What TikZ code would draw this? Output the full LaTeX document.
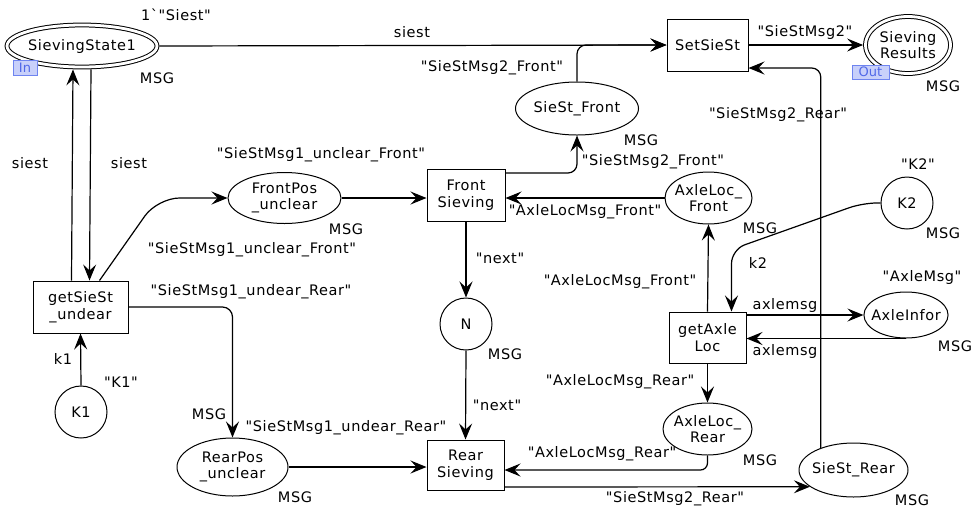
\documentclass[tikz,border=0pt]{standalone}
\usepackage{fontspec}
\setmainfont{DejaVu Sans}
\font\mainf="DejaVu Sans:letterspace=4" at 14.5pt
\font\tagf="DejaVu Sans" at 13pt
\usetikzlibrary{arrows.meta,calc,shapes.geometric}
\definecolor{tagfill}{RGB}{200,208,250}
\definecolor{tagborder}{RGB}{110,132,240}
\definecolor{tagtext}{RGB}{80,104,232}
\begin{document}
\begin{tikzpicture}[x=1pt,y=-1pt,
  every node/.style={font={\fontsize{14.5}{16.5}\selectfont\mainf}},
  place/.style={ellipse,draw,line width=1pt,inner sep=-5pt,align=center},
  dbl/.style={double,double distance=2.8pt,line width=1pt,outer sep=2.4pt},
  trans/.style={rectangle,draw,line width=1pt,inner sep=2pt,align=center},
  circ/.style={circle,draw,line width=1pt,minimum size=52pt,inner sep=0pt},
  arc/.style={line width=1.2pt,-{Stealth[length=16pt,width=13pt,inset=6pt]}},
  lbl/.style={inner sep=0pt},
  tag/.style={draw=tagborder,fill=tagfill,text=tagtext,inner sep=1pt,line width=1pt,font={\fontsize{13}{14}\selectfont\tagf}}]
\useasboundingbox (0,0) rectangle (974,507);
% places and transitions
\node[place,dbl,minimum width=150pt,minimum height=42pt] (ss1) at (82,46) {SievingState1};
\node[trans,minimum width=81pt,minimum height=52pt] (set) at (707.5,45) {SetSieSt};
\node[place,dbl,minimum width=85pt,minimum height=57pt] (res) at (908,45) {Sieving\\Results};
\node[place,minimum width=123pt,minimum height=53pt] (sfront) at (577,108.5) {SieSt\_Front};
\node[place,minimum width=113pt,minimum height=51pt] (fpos) at (284.5,198) {FrontPos\\\_unclear};
\node[trans,minimum width=78pt,minimum height=52pt] (fs) at (466,195) {Front\\Sieving};
\node[place,minimum width=87pt,minimum height=52pt] (alf) at (708.5,198) {AxleLoc\_\\Front};
\node[circ] (k2) at (907,203) {K2};
\node[trans,minimum width=95pt,minimum height=52pt] (gss) at (80.5,307) {getSieSt\\\_undear};
\node[circ] (n) at (466,324) {N};
\node[trans,minimum width=77pt,minimum height=51pt] (gal) at (707.5,337.5) {getAxle\\Loc};
\node[place,minimum width=80pt,minimum height=46pt] (ai) at (906,315) {AxleInfor};
\node[circ] (k1) at (81,412) {K1};
\node[place,minimum width=111pt,minimum height=58pt] (rpos) at (232.5,467) {RearPos\\\_unclear};
\node[trans,minimum width=77pt,minimum height=50pt] (rs) at (465.5,465) {Rear\\Sieving};
\node[place,minimum width=89pt,minimum height=52pt] (alr) at (707.5,429) {AxleLoc\_\\Rear};
\node[place,minimum width=109pt,minimum height=54pt] (srear) at (853.5,470) {SieSt\_Rear};
% port tags
\node[tag,minimum width=24pt,minimum height=15pt] (intag) at (25,68) {In};
\node[tag,minimum width=37pt,minimum height=14pt] (outtag) at (870.5,72) {Out};
% arcs
\draw[arc] (ss1.east) -- (set.west);
\draw[arc,rounded corners=9pt] (sfront.north) |- (set.west);
\draw[arc] (set.east) -- (res.west);
\draw[arc,rounded corners=9pt] (srear.146) |- ($(set.east)+(0,23)$);
\draw[arc,rounded corners=9pt] ($(fs.east)+(0,-22)$) -| (sfront.south);
\draw[arc] (alf.west) -- (alf.west -| fs.east);
\draw[arc] (gal.north) -- (alf.south);
\draw[arc,rounded corners=14pt] (k2.west) -- ++(-18,0) -- ($(gal.north)+(24,-62)$) -- ($(gal.north)+(24,0)$);
\draw[arc] (gal.east |- ai.west) -- (ai.west);
\draw[arc] (ai.south) -- (ai.south -| gal.east);
\draw[arc] (gal.south) -- (alr.north);
\draw[arc,rounded corners=7pt] (alr.south) |- ($(rs.east)+(0,5)$);
\draw[arc] ($(rs.east)+(0,22)$) -- (srear.201);
\draw[arc] (fs.south) -- (n.north);
\draw[arc] (n.south) -- (rs.north);
\draw[arc] (fpos.east) -- (fpos.east -| fs.west);
\draw[arc,rounded corners=22pt] ($(gss.north)+(19,0)$) -- ($(fpos.west)+(-70,0)$) -- (fpos.west);
\draw[arc,rounded corners=10pt] (gss.east) -| (rpos.north);
\draw[arc] (rpos.east) -- (rpos.east -| rs.west);
\draw[arc] (k1.north) -- (gss.south);
\draw[arc] ($(gss.north)+(-9,0)$) -- ($(ss1.south)+(-9,0)$);
\draw[arc] ($(ss1.south)+(9,0)$) -- ($(gss.north)+(9,0)$);
% inscriptions
\node[lbl] (l1) at (176,15) {1\char96"Siest"};
\node[lbl] (l2) at (157,78) {MSG};
\node[lbl] (l3) at (412,32) {siest};
\node[lbl] (l4) at (805,32) {"SieStMsg2"};
\node[lbl] (l5) at (943,86) {MSG};
\node[lbl] (l6) at (492,68) {"SieStMsg2\_Front"};
\node[lbl] (l7) at (778,115) {"SieStMsg2\_Rear"};
\node[lbl] (l8) at (641,140) {MSG};
\node[lbl] (l9) at (321,155) {"SieStMsg1\_unclear\_Front"};
\node[lbl] (l10) at (653,162) {"SieStMsg2\_Front"};
\node[lbl] (l11) at (918,164) {"K2"};
\node[lbl] (l12) at (30,163) {siest};
\node[lbl] (l13) at (129,163) {siest};
\node[lbl] (l14) at (346,229) {MSG};
\node[lbl] (l15) at (585,212) {"AxleLocMsg\_Front"};
\node[lbl] (l16) at (760,228) {MSG};
\node[lbl] (l17) at (943,233) {MSG};
\node[lbl] (l18) at (252,250) {"SieStMsg1\_unclear\_Front"};
\node[lbl] (l19) at (500,258) {"next"};
\node[lbl] (l20) at (758,263) {k2};
\node[lbl] (l21) at (620,282) {"AxleLocMsg\_Front"};
\node[lbl] (l22) at (922,277) {"AxleMsg"};
\node[lbl] (l23) at (251,292) {"SieStMsg1\_undear\_Rear"};
\node[lbl] (l24) at (785,305) {axlemsg};
\node[lbl] (l25) at (785,351) {axlemsg};
\node[lbl] (l26) at (955,346) {MSG};
\node[lbl] (l27) at (505,354) {MSG};
\node[lbl] (l28) at (63,359) {k1};
\node[lbl] (l29) at (121,382) {"K1"};
\node[lbl] (l30) at (620,382) {"AxleLocMsg\_Rear"};
\node[lbl] (l31) at (497,405) {"next"};
\node[lbl] (l32) at (209,414) {MSG};
\node[lbl] (l33) at (346,428) {"SieStMsg1\_undear\_Rear"};
\node[lbl] (l34) at (602,454) {"AxleLocMsg\_Rear"};
\node[lbl] (l35) at (760,460) {MSG};
\node[lbl] (l36) at (295,497) {MSG};
\node[lbl] (l37) at (675,499) {"SieStMsg2\_Rear"};
\node[lbl] (l38) at (912,500) {MSG};
\end{tikzpicture}
\end{document}
